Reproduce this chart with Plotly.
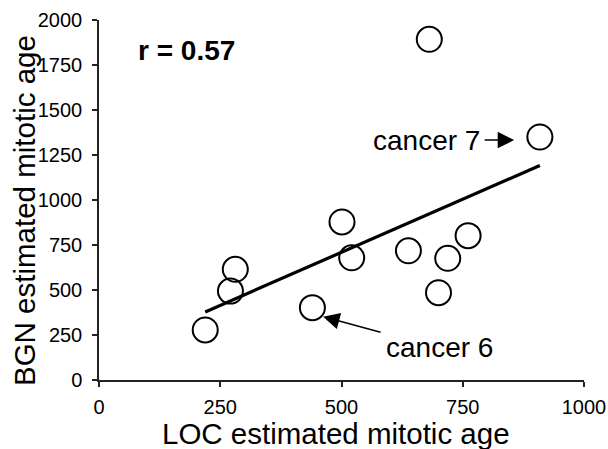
import numpy as np
import plotly.graph_objects as go

# Data
loc_age = [219, 271, 281, 440, 521, 501, 638, 719, 761, 700, 681, 909]
bgn_age = [278, 494, 615, 402, 679, 878, 718, 676, 802, 485, 1893, 1350]
x_ticks = [0, 250, 500, 750, 1000]
y_ticks = [0, 250, 500, 750, 1000, 1250, 1500, 1750, 2000]
r_label = "r = 0.57"
x_title = "LOC estimated mitotic age"
y_title = "BGN estimated mitotic age"
label_c7 = "cancer 7"
label_c6 = "cancer 6"
point_c7 = (856, 1333)   # arrow tip near cancer 7
point_c6 = (462, 352)    # arrow tip near cancer 6

FONT = "Liberation Sans, Arial, Helvetica, sans-serif"

slope, intercept = np.polyfit(loc_age, bgn_age, 1)
fit_x = [min(loc_age), max(loc_age)]
fit_y = [slope * v + intercept for v in fit_x]

W, H = 608, 449
ML, MR, MT, MB = 99, 24, 20, 69
plot_w = W - ML - MR
plot_h = H - MT - MB

fig = go.Figure()
fig.add_trace(go.Scatter(
    x=fit_x, y=fit_y, mode="lines",
    line=dict(color="black", width=3.2),
    showlegend=False, hoverinfo="skip",
))
fig.add_trace(go.Scatter(
    x=loc_age, y=bgn_age, mode="markers",
    marker=dict(symbol="circle-open", size=25, color="black",
                line=dict(color="black", width=2)),
    showlegend=False, cliponaxis=False,
))

axis_common = dict(
    showline=True, linecolor="#222", linewidth=1.5,
    ticks="outside", ticklen=5, tickwidth=1.5, tickcolor="#222",
    showgrid=False, zeroline=False, ticklabeloverflow="allow",
    automargin=False,
    tickfont=dict(family=FONT, size=20, color="black"),
)

fig.update_layout(
    width=W, height=H,
    margin=dict(l=ML, r=MR, t=MT, b=MB, autoexpand=False),
    paper_bgcolor="white", plot_bgcolor="white",
    font=dict(family=FONT, color="black"),
    xaxis=dict(range=[0, 1000], tickvals=x_ticks, ticklabelstandoff=3, **axis_common),
    yaxis=dict(range=[0, 2000], tickvals=y_ticks, ticklabelstandoff=6, **axis_common),
    annotations=[
        dict(text=f"<b>{r_label}</b>", x=(186 - ML) / plot_w, y=(H - MB - 50) / plot_h,
             xref="paper", yref="paper",
             xanchor="center", yanchor="middle", showarrow=False,
             font=dict(size=28, family=FONT, color="black")),
        dict(text=label_c7, x=790, y=1333, xref="x", yref="y",
             xanchor="right", yanchor="middle", showarrow=False,
             font=dict(size=28, family=FONT, color="black")),
        dict(text="", x=point_c7[0], y=point_c7[1], xref="x", yref="y",
             showarrow=True, ax=-31, ay=0, arrowhead=2, arrowsize=2.2,
             arrowwidth=1.5, arrowcolor="black"),
        dict(text=label_c6, x=588, y=178, xref="x", yref="y",
             xanchor="left", yanchor="middle", showarrow=False,
             font=dict(size=28, family=FONT, color="black")),
        dict(text="", x=point_c6[0], y=point_c6[1], xref="x", yref="y",
             showarrow=True, ax=59, ay=16, arrowhead=2, arrowsize=2.2,
             arrowwidth=1.5, arrowcolor="black"),
        dict(text=x_title, x=(336 - ML) / plot_w, y=(H - MB - 433) / plot_h,
             xref="paper", yref="paper",
             showarrow=False, font=dict(size=29.5, family=FONT, color="black"),
             xanchor="center", yanchor="middle"),
        dict(text=y_title, x=(24 - ML) / plot_w, y=(H - MB - 211) / plot_h,
             xref="paper", yref="paper",
             showarrow=False, textangle=-90,
             font=dict(size=29.5, family=FONT, color="black"),
             xanchor="center", yanchor="middle"),
    ],
)

fig.write_html(
    "out.html",
    config={"displayModeBar": False},
    post_script="document.body.style.margin='0';document.body.style.overflow='hidden';",
)
